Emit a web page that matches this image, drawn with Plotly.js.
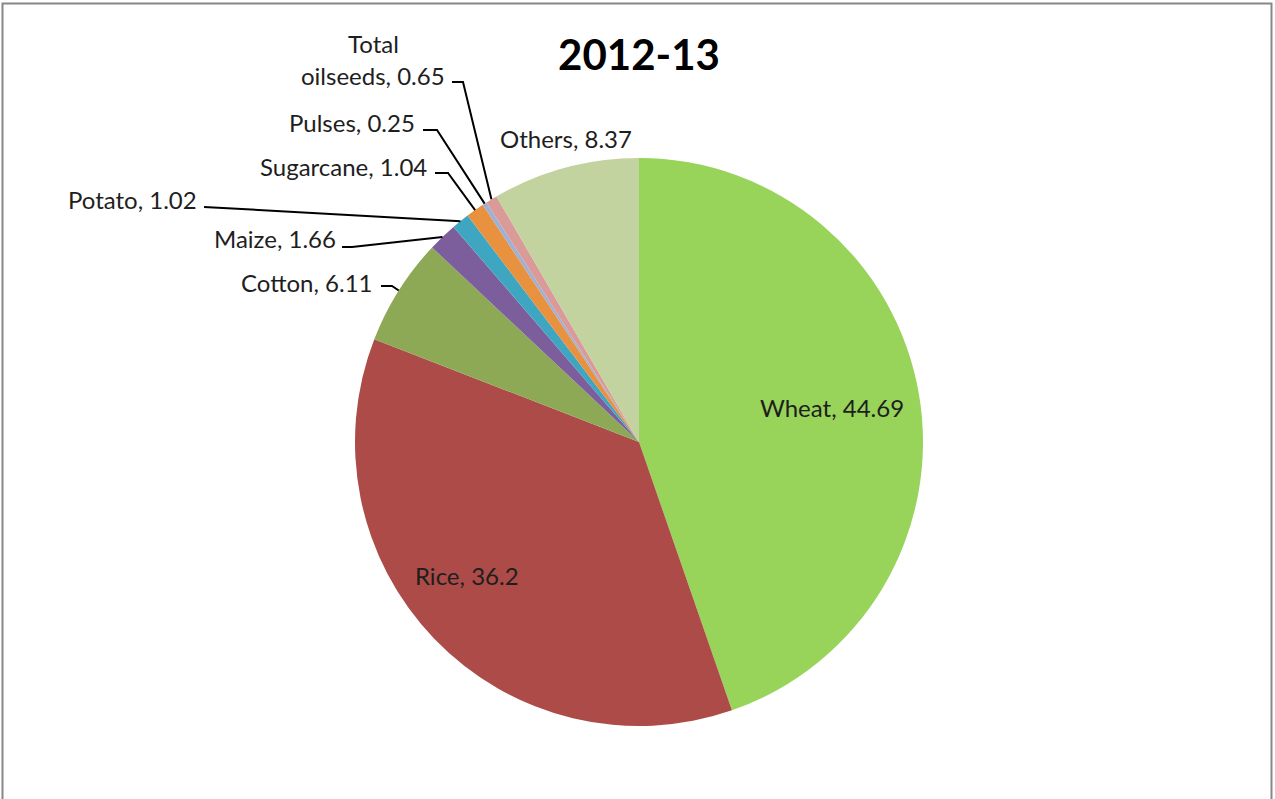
<!DOCTYPE html>
<html>
<head>
<meta charset="utf-8">
<script src="https://cdn.plot.ly/plotly-3.0.1.min.js"></script>
<style>html,body{margin:0;padding:0;background:#fff;}#chart{width:1275px;height:799px;}</style>
</head>
<body>
<div id="chart"></div>
<script>
// ---- data ----
var categories = ["Wheat", "Rice", "Cotton", "Maize", "Potato", "Sugarcane", "Pulses", "Total oilseeds", "Others"];
var displayLabels = ["Wheat", "Rice", "Cotton", "Maize", "Potato", "Sugarcane", "Pulses", "Total<br>oilseeds", "Others"];
var shares = [44.69, 36.2, 6.11, 1.66, 1.02, 1.04, 0.25, 0.65, 8.37];
var sliceColors = ["#98D35A", "#AC4B47", "#8EA956", "#7C5E9D", "#3FA6C1", "#E8913E", "#9DB1D6", "#D99A98", "#C2D39F"];
var chartTitle = "2012-13";

// ---- layout config (pixels) ----
var W = 1275, H = 799;
var CX = 639, CY = 442, R = 284;
var FONT = "Lato, 'Liberation Sans', sans-serif";
var FS = 24;
// label centre positions (px)
var labelPos = [
  [832, 408], [467, 575], [307, 282], [275, 238], [132, 200],
  [344, 167], [352, 123], [373, 59], [566, 138]
];
var lineGap = 32;
// leader line start + bend points (px); null = no leader
var leaderPts = [
  null, null,
  [[381, 286], [392, 286]],
  [[342, 247], [352, 247]],
  [[204, 207]],
  [[435, 173], [448, 173]],
  [[423, 130], [437, 130]],
  [[452, 82], [463, 82]],
  null
];

function px(x) { return x / W; }
function py(y) { return 1 - y / H; }

var total = shares.reduce(function (a, b) { return a + b; }, 0);

var trace = {
  type: "pie",
  labels: categories,
  values: shares,
  sort: false,
  direction: "clockwise",
  rotation: 0,
  textinfo: "none",
  hoverinfo: "none",
  marker: { colors: sliceColors, line: { width: 0 } },
  domain: { x: [px(CX - R), px(CX + R)], y: [py(CY + R), py(CY - R)] },
  showlegend: false
};

var annotations = [];
var shapes = [];
var cum = 0;
for (var i = 0; i < shares.length; i++) {
  var mid = (cum + shares[i] / 2) / total * 2 * Math.PI;
  cum += shares[i];
  var txt = displayLabels[i] + ", " + shares[i];
  var lines = txt.split("<br>");
  var y0 = labelPos[i][1] - (lines.length - 1) * lineGap / 2;
  lines.forEach(function (ln, k) {
    annotations.push({
      xref: "paper", yref: "paper",
      x: px(labelPos[i][0]), y: py(y0 + k * lineGap),
      xanchor: "center", yanchor: "middle",
      text: ln, showarrow: false,
      font: { family: FONT, size: FS, color: "#1e1e1e" }
    });
  });
  if (leaderPts[i]) {
    var ex = CX + R * Math.sin(mid), ey = CY - R * Math.cos(mid);
    var pts = leaderPts[i].concat([[ex, ey]]);
    var d = pts.map(function (p, j) { return (j ? "L" : "M") + px(p[0]) + "," + py(p[1]); }).join(" ");
    shapes.push({ type: "path", xref: "paper", yref: "paper", path: d, line: { color: "#000", width: 2 } });
  }
}

// outer border
shapes.push({
  type: "rect", xref: "paper", yref: "paper",
  x0: px(2.5), x1: px(1271.5), y0: -0.05, y1: py(3.5),
  line: { color: "#878787", width: 2 }, fillcolor: "rgba(0,0,0,0)"
});

var layout = {
  width: W, height: H,
  margin: { l: 0, r: 0, t: 0, b: 0 },
  paper_bgcolor: "#fff",
  title: { text: chartTitle, font: { family: FONT, size: 42, color: "#000", weight: "bold" }, x: px(639), xanchor: "center", y: py(55), yanchor: "middle" },
  annotations: annotations,
  shapes: shapes
};

Plotly.newPlot("chart", [trace], layout, { displayModeBar: false, staticPlot: true });
</script>
</body>
</html>
